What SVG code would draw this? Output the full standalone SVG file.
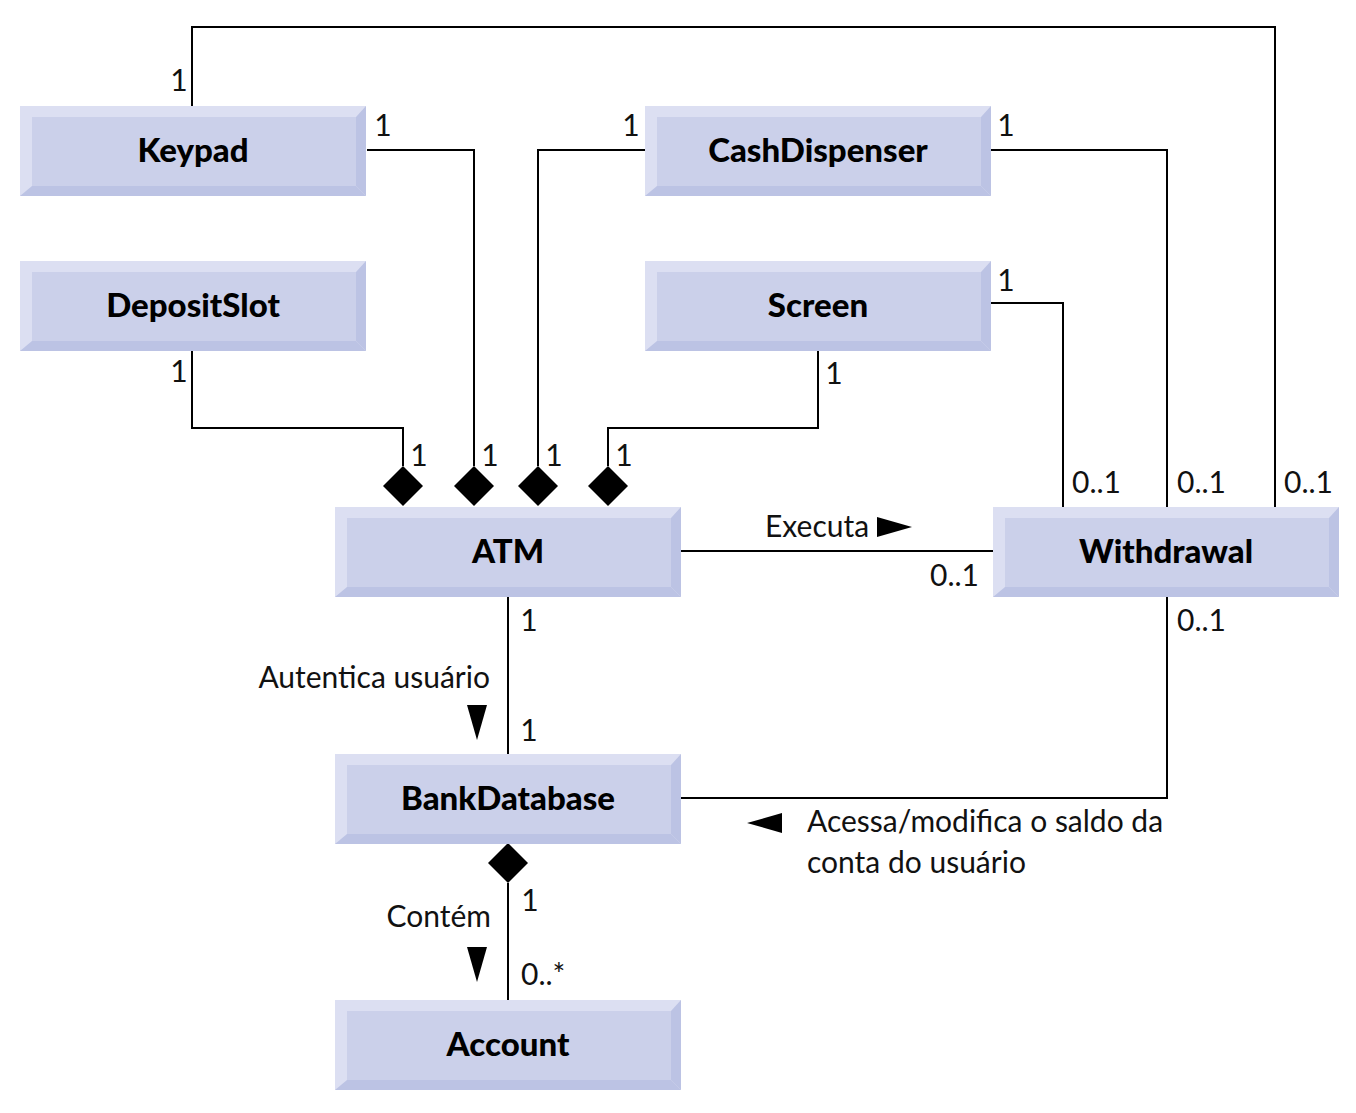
<svg xmlns="http://www.w3.org/2000/svg" xmlns:xlink="http://www.w3.org/1999/xlink" width="1356" height="1113" viewBox="0 0 1356 1113">
<style>
  .lbl { font-family: Lato, "Open Sans", "DejaVu Sans", sans-serif; font-size: 30px; fill: #111; }
  .name { font-family: Lato, "Open Sans", "DejaVu Sans", sans-serif; font-size: 33px; font-weight: 900; fill: #000; text-anchor: middle; }
  .one { text-anchor: middle; }
  .ln { fill: none; stroke: #000; stroke-width: 2; }
  .dia { fill: #000; }
</style>
<defs>
  <g id="box">
    <rect x="0" y="0" width="346" height="90" fill="#dcdff2"/>
    <polygon points="346,0 346,90 336,80 336,11" fill="#bcc3e4"/>
    <polygon points="0,90 346,90 336,80 12,80" fill="#bcc3e4"/>
    <rect x="12" y="11" width="324" height="69" fill="#cbd0ea"/>
  </g>
</defs>
<rect width="1356" height="1113" fill="#fff"/>

<g id="connectors">
  <polyline class="ln" points="192,106 192,27 1275,27 1275,507"/>
  <polyline class="ln" points="367,150 474,150 474,466"/>
  <polyline class="ln" points="645,150 538,150 538,466"/>
  <polyline class="ln" points="192,350 192,428 403,428 403,466"/>
  <polyline class="ln" points="818,350 818,428 608,428 608,466"/>
  <polyline class="ln" points="991,150 1167,150 1167,507"/>
  <polyline class="ln" points="991,303 1063,303 1063,507"/>
  <line class="ln" x1="681" y1="551" x2="993" y2="551"/>
  <line class="ln" x1="508" y1="597" x2="508" y2="754"/>
  <polyline class="ln" points="1167,597 1167,798 681,798"/>
  <line class="ln" x1="508" y1="883" x2="508" y2="1000"/>
  <polygon class="dia" points="403,466 423,486 403,506 383,486"/>
  <polygon class="dia" points="474,466 494,486 474,506 454,486"/>
  <polygon class="dia" points="538,466 558,486 538,506 518,486"/>
  <polygon class="dia" points="608,466 628,486 608,506 588,486"/>
  <polygon class="dia" points="508,843 528,863 508,883 488,863"/>
  <polygon class="dia" points="877,517 912,527 877,537"/>
  <polygon class="dia" points="467,705 487,705 477,740"/>
  <polygon class="dia" points="467,947 487,947 477,982"/>
  <polygon class="dia" points="782,813 747,823 782,833"/>
  <g class="lbl">
    <text class="one" x="179" y="91">1</text>
    <text class="one" x="383" y="136">1</text>
    <text class="one" x="631" y="136">1</text>
    <text class="one" x="1006" y="136">1</text>
    <text class="one" x="1006" y="291">1</text>
    <text class="one" x="179" y="382">1</text>
    <text class="one" x="834" y="384">1</text>
    <text class="one" x="419" y="466">1</text>
    <text class="one" x="490" y="466">1</text>
    <text class="one" x="554" y="466">1</text>
    <text class="one" x="624" y="466">1</text>
    <text x="1072" y="493">0..1</text>
    <text x="1177" y="493">0..1</text>
    <text x="1284" y="493">0..1</text>
    <text x="765" y="537">Executa</text>
    <text x="979" y="586" text-anchor="end">0..1</text>
    <text x="1177" y="631">0..1</text>
    <text class="one" x="529" y="631">1</text>
    <text x="490" y="688" text-anchor="end">Autentica usuário</text>
    <text class="one" x="529" y="741">1</text>
    <text x="807" y="832">Acessa/modifica o saldo da</text>
    <text x="807" y="873">conta do usuário</text>
    <text x="491" y="927" text-anchor="end">Contém</text>
    <text class="one" x="530" y="911">1</text>
    <text x="521" y="985">0..*</text>
  </g>
</g>

<g id="Keypad"><use xlink:href="#box" x="20" y="106"/><text class="name" x="193" y="162">Keypad</text></g>
<g id="DepositSlot"><use xlink:href="#box" x="20" y="261"/><text class="name" x="193" y="317">DepositSlot</text></g>
<g id="CashDispenser"><use xlink:href="#box" x="645" y="106"/><text class="name" x="818" y="162">CashDispenser</text></g>
<g id="Screen"><use xlink:href="#box" x="645" y="261"/><text class="name" x="818" y="317">Screen</text></g>
<g id="ATM"><use xlink:href="#box" x="335" y="507"/><text class="name" x="508" y="563">ATM</text></g>
<g id="Withdrawal"><use xlink:href="#box" x="993" y="507"/><text class="name" x="1166" y="563">Withdrawal</text></g>
<g id="BankDatabase"><use xlink:href="#box" x="335" y="754"/><text class="name" x="508" y="810">BankDatabase</text></g>
<g id="Account"><use xlink:href="#box" x="335" y="1000"/><text class="name" x="508" y="1056">Account</text></g>
</svg>
